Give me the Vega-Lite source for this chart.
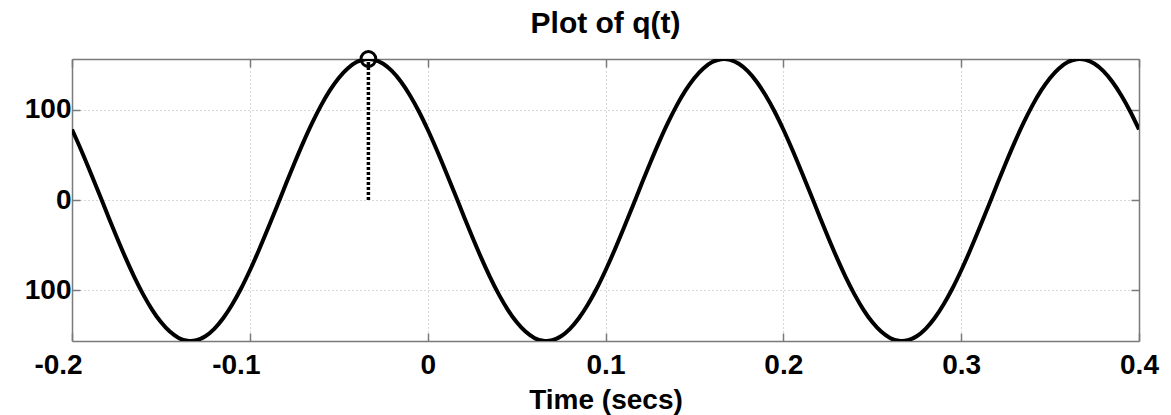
{
  "$schema": "https://vega.github.io/schema/vega-lite/v6.json",
  "autosize": "none",
  "width": 1067,
  "height": 282,
  "padding": {"left": 72, "top": 59, "right": 32, "bottom": 74},
  "background": "white",
  "config": {
    "view": {"stroke": null},
    "font": "Liberation Sans",
    "axis": {
      "domainColor": "#7a7a7a",
      "domainWidth": 1.5,
      "tickColor": "#7a7a7a",
      "tickWidth": 1.5,
      "tickSize": -8,
      "labelFont": "Liberation Sans",
      "labelFontSize": 28,
      "labelFontWeight": "bold",
      "labelColor": "black",
      "titleFont": "Liberation Sans",
      "titleFontSize": 28,
      "titleFontWeight": "bold",
      "titleColor": "black",
      "gridColor": "#b0b0b0",
      "gridWidth": 1,
      "gridDash": [1, 3]
    }
  },
  "title": {
    "text": "Plot of q(t)",
    "font": "Liberation Sans",
    "fontSize": 30,
    "fontWeight": "bold",
    "color": "black",
    "anchor": "middle",
    "offset": 7
  },
  "datasets": {
    "q": [
      {"t": -0.2, "q": 78}, {"t": -0.195, "q": 55.9}, {"t": -0.19, "q": 32.4}, {"t": -0.185, "q": 8.2},
      {"t": -0.18, "q": -16.3}, {"t": -0.175, "q": -40.4}, {"t": -0.17, "q": -63.5}, {"t": -0.165, "q": -85},
      {"t": -0.16, "q": -104.4}, {"t": -0.155, "q": -121.2}, {"t": -0.15, "q": -135.1}, {"t": -0.145, "q": -145.6},
      {"t": -0.14, "q": -152.6}, {"t": -0.135, "q": -155.8}, {"t": -0.13333, "q": -156}, {"t": -0.13, "q": -155.1},
      {"t": -0.125, "q": -150.7}, {"t": -0.12, "q": -142.5}, {"t": -0.115, "q": -130.8}, {"t": -0.11, "q": -115.9},
      {"t": -0.105, "q": -98.2}, {"t": -0.1, "q": -78}, {"t": -0.095, "q": -55.9}, {"t": -0.09, "q": -32.4},
      {"t": -0.085, "q": -8.2}, {"t": -0.08, "q": 16.3}, {"t": -0.075, "q": 40.4}, {"t": -0.07, "q": 63.5},
      {"t": -0.065, "q": 85}, {"t": -0.06, "q": 104.4}, {"t": -0.055, "q": 121.2}, {"t": -0.05, "q": 135.1},
      {"t": -0.045, "q": 145.6}, {"t": -0.04, "q": 152.6}, {"t": -0.035, "q": 155.8}, {"t": -0.03333, "q": 156},
      {"t": -0.03, "q": 155.1}, {"t": -0.025, "q": 150.7}, {"t": -0.02, "q": 142.5}, {"t": -0.015, "q": 130.8},
      {"t": -0.01, "q": 115.9}, {"t": -0.005, "q": 98.2}, {"t": 0, "q": 78}, {"t": 0.005, "q": 55.9},
      {"t": 0.01, "q": 32.4}, {"t": 0.015, "q": 8.2}, {"t": 0.02, "q": -16.3}, {"t": 0.025, "q": -40.4},
      {"t": 0.03, "q": -63.5}, {"t": 0.035, "q": -85}, {"t": 0.04, "q": -104.4}, {"t": 0.045, "q": -121.2},
      {"t": 0.05, "q": -135.1}, {"t": 0.055, "q": -145.6}, {"t": 0.06, "q": -152.6}, {"t": 0.065, "q": -155.8},
      {"t": 0.06667, "q": -156}, {"t": 0.07, "q": -155.1}, {"t": 0.075, "q": -150.7}, {"t": 0.08, "q": -142.5},
      {"t": 0.085, "q": -130.8}, {"t": 0.09, "q": -115.9}, {"t": 0.095, "q": -98.2}, {"t": 0.1, "q": -78},
      {"t": 0.105, "q": -55.9}, {"t": 0.11, "q": -32.4}, {"t": 0.115, "q": -8.2}, {"t": 0.12, "q": 16.3},
      {"t": 0.125, "q": 40.4}, {"t": 0.13, "q": 63.5}, {"t": 0.135, "q": 85}, {"t": 0.14, "q": 104.4},
      {"t": 0.145, "q": 121.2}, {"t": 0.15, "q": 135.1}, {"t": 0.155, "q": 145.6}, {"t": 0.16, "q": 152.6},
      {"t": 0.165, "q": 155.8}, {"t": 0.16667, "q": 156}, {"t": 0.17, "q": 155.1}, {"t": 0.175, "q": 150.7},
      {"t": 0.18, "q": 142.5}, {"t": 0.185, "q": 130.8}, {"t": 0.19, "q": 115.9}, {"t": 0.195, "q": 98.2},
      {"t": 0.2, "q": 78}, {"t": 0.205, "q": 55.9}, {"t": 0.21, "q": 32.4}, {"t": 0.215, "q": 8.2},
      {"t": 0.22, "q": -16.3}, {"t": 0.225, "q": -40.4}, {"t": 0.23, "q": -63.5}, {"t": 0.235, "q": -85},
      {"t": 0.24, "q": -104.4}, {"t": 0.245, "q": -121.2}, {"t": 0.25, "q": -135.1}, {"t": 0.255, "q": -145.6},
      {"t": 0.26, "q": -152.6}, {"t": 0.265, "q": -155.8}, {"t": 0.26667, "q": -156}, {"t": 0.27, "q": -155.1},
      {"t": 0.275, "q": -150.7}, {"t": 0.28, "q": -142.5}, {"t": 0.285, "q": -130.8}, {"t": 0.29, "q": -115.9},
      {"t": 0.295, "q": -98.2}, {"t": 0.3, "q": -78}, {"t": 0.305, "q": -55.9}, {"t": 0.31, "q": -32.4},
      {"t": 0.315, "q": -8.2}, {"t": 0.32, "q": 16.3}, {"t": 0.325, "q": 40.4}, {"t": 0.33, "q": 63.5},
      {"t": 0.335, "q": 85}, {"t": 0.34, "q": 104.4}, {"t": 0.345, "q": 121.2}, {"t": 0.35, "q": 135.1},
      {"t": 0.355, "q": 145.6}, {"t": 0.36, "q": 152.6}, {"t": 0.365, "q": 155.8}, {"t": 0.36667, "q": 156},
      {"t": 0.37, "q": 155.1}, {"t": 0.375, "q": 150.7}, {"t": 0.38, "q": 142.5}, {"t": 0.385, "q": 130.8},
      {"t": 0.39, "q": 115.9}, {"t": 0.395, "q": 98.2}, {"t": 0.4, "q": 78}
    ],
    "peak": [{"t": -0.03333, "q0": 0, "q": 156}]
  },
  "layer": [
    {
      "data": {"name": "q"},
      "mark": {"type": "line", "color": "black", "strokeWidth": 4, "interpolate": "monotone", "clip": true},
      "encoding": {
        "x": {
          "field": "t", "type": "quantitative",
          "scale": {"domain": [-0.2, 0.4], "nice": false, "zero": false},
          "axis": {
            "orient": "bottom", "values": [-0.2, -0.1, 0, 0.1, 0.2, 0.3, 0.4],
            "labelExpr": "'' + datum.value", "title": "Time (secs)",
            "labelOffset": {"condition": {"test": "datum.value < 0", "value": -14}, "value": 0},
            "grid": true, "labelPadding": 18, "titlePadding": 7, "labelFlush": false
          }
        },
        "y": {
          "field": "q", "type": "quantitative",
          "scale": {"domain": [-156, 156], "nice": false, "zero": false},
          "axis": {
            "orient": "left", "values": [-100, 0, 100],
            "labelExpr": "'' + abs(datum.value)", "title": null,
            "grid": true, "labelPadding": 9
          }
        }
      }
    },
    {
      "data": {"name": "peak"},
      "mark": {"type": "rule", "color": "black", "strokeWidth": 3.5, "strokeDash": [3, 2]},
      "encoding": {
        "x": {"field": "t", "type": "quantitative", "axis": null},
        "y": {"field": "q0", "type": "quantitative", "axis": null},
        "y2": {"field": "q"}
      }
    },
    {
      "data": {"name": "peak"},
      "mark": {"type": "point", "shape": "circle", "filled": false, "color": "black", "strokeWidth": 3, "size": 220, "opacity": 1},
      "encoding": {
        "x": {
          "field": "t", "type": "quantitative",
          "axis": {
            "orient": "top", "values": [-0.2, -0.1, 0, 0.1, 0.2, 0.3, 0.4],
            "labels": false, "title": null, "grid": false
          }
        },
        "y": {
          "field": "q", "type": "quantitative",
          "axis": {
            "orient": "right", "values": [-100, 0, 100],
            "labels": false, "title": null, "grid": false
          }
        }
      }
    }
  ],
  "resolve": {"axis": {"x": "independent", "y": "independent"}}
}
